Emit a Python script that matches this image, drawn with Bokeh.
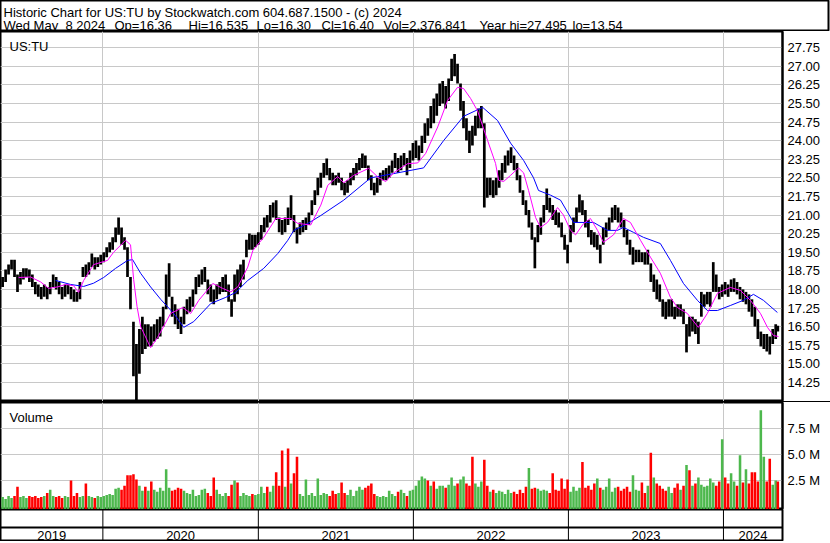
import numpy as np
import pandas as pd
from bokeh.plotting import figure
from bokeh.layouts import column
from bokeh.models import Range1d, FixedTicker, Grid, PrintfTickFormatter, Label, Span, ColumnDataSource, Div
from bokeh.embed import file_html
from bokeh.resources import INLINE
from bokeh.core.properties import value

FONT = "Liberation Sans"

# ---------------- data ----------------
header_line1 = "Historic Chart for US:TU by Stockwatch.com 604.687.1500 - (c) 2024"
header_fields = ["Wed May", "8 2024", "Op=16.36", "Hi=16.535", "Lo=16.30", "Cl=16.40",
                 "Vol=2,376,841", "Year hi=27.495", "lo=13.54"]
symbol = "US:TU"

# weekly bars: week ending dates (Fridays) from 2019-05-10, last one 2024-05-08
first_week = "2019-05-10"
last_day = "2024-05-08"

week_low = [
    18.1, 18.3, 18.6, 18.8, 18.5, 17.9, 18.2, 18.4, 18.5, 18.3,
    18.1, 17.8, 17.7, 17.6, 17.7, 17.6, 17.8, 18.1, 18.0, 17.8,
    17.6, 17.7, 17.8, 17.6, 17.5, 17.5, 17.6, 18.5, 18.5, 18.6,
    18.9, 18.8, 18.9, 19.0, 19.1, 19.3, 19.5, 19.6, 19.9, 20.2,
    19.8, 19.6, 18.5, 17.2, 14.5, 13.54, 14.6, 15.4, 15.6, 15.7,
    15.7, 15.9, 16.0, 16.1, 16.5, 17.2, 17.7, 16.9, 16.6, 16.4,
    16.2, 16.6, 17.0, 17.1, 17.3, 17.8, 18.1, 18.2, 18.3, 17.8,
    17.5, 17.4, 17.6, 17.8, 17.9, 17.9, 17.5, 16.9, 17.5, 17.8,
    18.1, 18.4, 19.3, 19.6, 19.6, 19.7, 19.8, 20.0, 20.3, 20.5,
    20.7, 20.9, 20.8, 20.3, 20.2, 20.3, 20.6, 20.8, 20.3, 19.85,
    20.2, 20.3, 20.4, 20.6, 21.0, 21.4, 21.8, 22.1, 22.5, 22.6,
    22.4, 22.2, 22.2, 22.3, 22.0, 21.8, 21.9, 22.2, 22.4, 22.6,
    22.8, 22.9, 22.9, 22.4, 22.0, 21.8, 21.9, 22.2, 22.4, 22.4,
    22.5, 22.7, 22.9, 22.7, 22.8, 23.0, 22.6, 22.9, 23.2, 23.3,
    23.2, 23.5, 23.9, 24.2, 24.5, 24.7, 25.0, 25.4, 25.5, 25.3,
    25.6, 26.4, 26.6, 26.3, 25.2, 24.5, 24.0, 23.5, 23.8, 24.2,
    24.5, 24.5, 21.3, 21.7, 21.8, 21.7, 21.8, 22.1, 22.4, 22.7,
    23.0, 23.1, 22.8, 22.4, 21.9, 21.4, 21.0, 20.5, 20.0, 18.85,
    19.9, 20.2, 20.7, 21.2, 21.1, 20.8, 20.6, 20.5, 20.1, 19.6,
    19.05, 19.9, 20.3, 20.7, 21.1, 21.0, 20.5, 20.1, 19.8, 19.7,
    19.6, 19.05, 19.8, 20.1, 20.4, 20.7, 20.8, 20.7, 20.5, 20.1,
    19.8, 19.4, 19.0, 19.1, 19.1, 19.1, 19.0, 19.0, 18.3, 17.9,
    17.6, 17.5, 16.9, 16.8, 16.9, 16.9, 16.8, 16.9, 16.9, 16.6,
    15.46, 16.1, 16.3, 16.2, 15.8, 16.9, 17.3, 17.4, 17.3, 17.9,
    17.9, 17.6, 17.7, 17.8, 17.7, 17.9, 17.9, 17.8, 17.6, 17.5,
    17.4, 17.1, 16.9, 16.5, 16.0, 15.7, 15.6, 15.5, 15.38, 15.8,
    16.0, 16.30,
]
week_high = [
    18.5, 18.8, 19.0, 19.2, 19.2, 18.6, 18.7, 18.85, 18.85, 18.8,
    18.6, 18.3, 18.2, 18.1, 18.2, 18.1, 18.3, 18.6, 18.5, 18.3,
    18.1, 18.2, 18.2, 18.1, 18.0, 17.9, 18.3, 18.9, 19.0, 19.1,
    19.45, 19.3, 19.3, 19.4, 19.5, 19.7, 19.9, 20.1, 20.5, 20.9,
    20.5, 20.1, 19.7, 18.5, 16.7, 15.8, 16.4, 16.9, 16.6, 16.6,
    16.5, 16.6, 16.8, 16.9, 17.3, 18.6, 19.05, 17.7, 17.4, 17.2,
    16.9, 17.3, 17.6, 17.7, 18.0, 18.5, 18.6, 18.8, 18.9, 18.4,
    18.2, 18.0, 18.2, 18.3, 18.5, 18.6, 18.2, 17.6, 18.6, 18.8,
    19.0, 19.2, 20.0, 20.25, 20.2, 20.2, 20.3, 20.6, 20.9, 21.0,
    21.4, 21.5, 21.6, 20.9, 20.8, 20.9, 21.3, 21.8, 21.0, 20.5,
    20.7, 20.8, 20.9, 21.1, 21.6, 22.0, 22.5, 22.7, 23.1, 23.28,
    22.9, 22.7, 22.6, 22.7, 22.5, 22.3, 22.4, 22.7, 22.9, 23.1,
    23.3, 23.48, 23.4, 23.0, 22.6, 22.3, 22.5, 22.7, 22.8, 22.9,
    23.0, 23.2, 23.5, 23.3, 23.4, 23.5, 23.3, 23.6, 23.9, 24.0,
    23.8, 24.2, 24.7, 24.9, 25.4, 25.7, 25.9, 26.3, 26.4, 26.2,
    26.5, 27.3, 27.495, 27.1, 26.3, 25.6, 24.9, 24.4, 24.6, 25.0,
    25.3, 25.4, 24.7, 22.5, 22.5, 22.4, 22.5, 22.8, 23.1, 23.4,
    23.6, 23.73, 23.4, 23.1, 22.6, 22.0, 21.6, 21.2, 20.7, 20.1,
    20.6, 20.9, 21.4, 22.07, 21.7, 21.4, 21.2, 21.1, 20.7, 20.2,
    19.8, 20.6, 20.9, 21.3, 21.83, 21.6, 21.2, 20.8, 20.4, 20.3,
    20.2, 19.8, 20.5, 20.7, 20.9, 21.3, 21.4, 21.3, 21.1, 20.8,
    20.4, 20.0, 19.7, 19.6, 19.6, 19.5, 19.5, 19.6, 19.05, 18.6,
    18.4, 18.2, 17.6, 17.5, 17.6, 17.6, 17.3, 17.4, 17.4, 17.2,
    16.6, 16.9, 16.9, 16.8, 16.7, 17.9, 17.8, 17.9, 17.9, 19.1,
    18.6, 18.1, 18.2, 18.3, 18.2, 18.4, 18.45, 18.3, 18.1, 18.0,
    17.9, 17.8, 17.6, 17.3, 16.8, 16.3, 16.2, 16.2, 16.1, 16.4,
    16.6, 16.535,
]
# volume, millions of shares
week_volume = [
    0.9, 0.7, 1.0, 0.8, 1.0, 1.9, 0.9, 1.0, 0.8, 1.0,
    0.9, 1.0, 0.8, 0.9, 1.0, 1.3, 1.6, 1.0, 0.9, 1.0,
    0.8, 1.0, 0.9, 2.5, 1.0, 1.3, 0.9, 1.0, 2.2, 1.0,
    0.9, 0.8, 1.0, 0.9, 1.0, 1.1, 1.2, 1.1, 1.7, 1.8,
    1.6, 2.0, 3.0, 3.0, 3.1, 2.6, 2.0, 1.5, 1.9, 1.5,
    2.4, 1.6, 1.4, 1.8, 1.5, 3.6, 1.8, 1.5, 1.6, 1.8,
    1.7, 1.5, 1.3, 1.2, 1.6, 1.0, 1.1, 1.6, 1.7, 1.3,
    1.0, 2.8, 1.6, 1.2, 1.0, 1.3, 1.0, 2.1, 2.5, 2.3,
    1.0, 1.3, 1.1, 1.0, 1.2, 1.1, 1.2, 1.9, 1.3, 1.9,
    1.4, 2.0, 3.3, 2.0, 5.4, 1.9, 5.6, 2.2, 3.2, 4.8,
    1.2, 1.0, 2.6, 1.1, 1.3, 1.0, 2.7, 1.1, 1.3, 1.2,
    1.0, 1.5, 1.2, 1.3, 2.3, 1.3, 1.1, 1.6, 1.0, 1.5,
    1.9, 1.6, 1.8, 2.0, 2.2, 1.2, 1.0, 0.9, 1.0, 0.9,
    1.5, 1.2, 1.0, 1.4, 1.6, 1.3, 1.0, 1.5, 1.6, 2.0,
    2.5, 2.9, 2.7, 2.5, 2.0, 2.4, 1.7, 2.0, 2.0, 1.8,
    2.1, 2.8, 2.0, 2.2, 2.6, 2.9, 2.2, 2.0, 4.8, 2.2,
    1.9, 2.4, 4.5, 2.0, 1.4, 1.6, 1.3, 1.5, 1.4, 1.2,
    1.6, 1.3, 1.4, 1.2, 1.6, 1.3, 1.9, 3.7, 1.7, 1.8,
    1.7, 1.5, 1.6, 1.5, 1.3, 3.2, 1.6, 1.5, 2.7, 1.7,
    2.6, 1.4, 1.9, 1.5, 1.8, 4.3, 1.8, 2.0, 1.6, 2.2,
    2.7, 1.8, 1.6, 1.9, 2.7, 1.4, 1.8, 1.9, 1.5, 1.7,
    1.9, 1.4, 3.0, 1.6, 1.5, 2.3, 1.3, 2.0, 5.2, 2.8,
    2.2, 2.0, 1.7, 1.5, 1.9, 1.3, 1.8, 2.2, 1.6, 2.0,
    4.0, 3.5, 2.0, 2.2, 2.8, 2.1, 1.9, 2.0, 2.7, 2.3,
    2.0, 2.4, 6.5, 2.8, 2.2, 3.2, 2.4, 2.0, 4.95, 2.3,
    3.6, 2.2, 3.3, 3.3, 2.4, 9.3, 4.8, 2.4, 4.6, 2.1,
    2.5, 2.4,
]
# colour of the taller volume bars as seen in the picture (g = up, r = down)
volume_colour_seen = {
    5: "r", 23: "r", 28: "r", 42: "r", 43: "r", 44: "r", 55: "g", 71: "r", 77: "r", 78: "g",
    79: "r", 87: "g", 89: "r", 92: "r", 94: "r", 96: "r", 98: "r", 99: "r", 102: "g", 106: "g",
    114: "r", 123: "r", 124: "r", 140: "g", 141: "g", 143: "r", 145: "r", 151: "g", 154: "g",
    155: "g", 158: "r", 162: "r", 177: "g", 185: "r", 188: "r", 190: "r", 195: "r", 200: "g",
    204: "g", 212: "g", 218: "r", 219: "g", 220: "r", 227: "r", 230: "g", 231: "r", 234: "g",
    238: "g", 242: "g", 243: "r", 245: "g", 248: "g", 250: "g", 252: "r", 253: "r", 255: "g",
    256: "g", 258: "r", 261: "r",
}

# moving averages (decimal year, value)
ma50_t = [
    2019.457, 2019.534, 2019.599, 2019.650, 2019.708, 2019.760, 2019.811, 2019.843, 2019.876, 2019.940,
    2020.030, 2020.069, 2020.146, 2020.178, 2020.198, 2020.220, 2020.243, 2020.307, 2020.352, 2020.436,
    2020.514, 2020.565, 2020.617, 2020.707, 2020.771, 2020.823, 2020.868, 2020.932, 2020.965, 2021.035,
    2021.113, 2021.209, 2021.255, 2021.338, 2021.403, 2021.448, 2021.512, 2021.551, 2021.615, 2021.712,
    2021.776, 2021.822, 2021.873, 2021.963, 2022.028, 2022.079, 2022.157, 2022.221, 2022.285, 2022.324,
    2022.369, 2022.414, 2022.479, 2022.530, 2022.550, 2022.582, 2022.627, 2022.678, 2022.711, 2022.743,
    2022.788, 2022.820, 2022.865, 2022.930, 2022.968, 2023.014, 2023.046, 2023.097, 2023.142, 2023.188,
    2023.226, 2023.291, 2023.355, 2023.400, 2023.465, 2023.529, 2023.593, 2023.658, 2023.703, 2023.767,
    2023.838, 2023.896, 2023.961, 2024.044, 2024.109, 2024.173, 2024.238, 2024.283, 2024.322, 2024.354,
]
ma50_v = [
    18.48, 18.50, 18.30, 18.04, 18.10, 18.20, 18.15, 17.88, 18.36, 19.00,
    19.17, 19.50, 19.98, 19.80, 18.40, 17.30, 16.50, 15.65, 16.06, 17.03,
    17.27, 17.03, 17.56, 18.24, 18.04, 17.90, 18.10, 18.90, 19.57, 20.10,
    20.86, 20.86, 20.66, 20.60, 21.40, 22.20, 22.55, 22.30, 22.60, 22.88,
    22.50, 22.35, 22.70, 23.07, 23.10, 23.48, 24.55, 25.62, 26.15, 26.10,
    25.70, 25.20, 24.00, 23.08, 22.40, 22.35, 22.60, 22.90, 22.70, 21.99,
    20.90, 20.50, 20.70, 21.30, 21.00, 20.38, 20.20, 20.65, 20.86, 20.38,
    19.90, 20.20, 20.86, 20.70, 19.98, 19.30, 18.65, 17.68, 17.27, 17.03,
    16.47, 17.03, 17.84, 18.08, 17.96, 17.56, 17.03, 16.47, 16.14, 16.10,
]
ma200_t = [
    2019.695, 2019.792, 2019.876, 2019.940, 2020.005, 2020.082, 2020.159, 2020.191, 2020.243, 2020.307,
    2020.372, 2020.456, 2020.520, 2020.584, 2020.694, 2020.791, 2020.855, 2020.932, 2021.035, 2021.126,
    2021.190, 2021.229, 2021.319, 2021.403, 2021.551, 2021.725, 2021.873, 2022.066, 2022.195, 2022.324,
    2022.447, 2022.543, 2022.627, 2022.711, 2022.775, 2022.807, 2022.885, 2022.949, 2023.033, 2023.162,
    2023.252, 2023.316, 2023.355, 2023.420, 2023.484, 2023.593, 2023.658, 2023.742, 2023.832, 2023.896,
    2023.961, 2024.044, 2024.128, 2024.193, 2024.257, 2024.347,
]
ma200_v = [
    18.36, 18.20, 18.12, 18.25, 18.48, 18.85, 19.17, 19.20, 18.65, 18.10,
    17.60, 17.03, 16.47, 16.70, 17.43, 17.68, 17.88, 18.36, 18.85, 19.45,
    19.98, 20.38, 20.66, 20.98, 21.60, 22.50, 22.67, 22.90, 24.00, 24.98,
    25.34, 24.81, 23.90, 23.20, 22.50, 21.99, 21.80, 21.60, 20.70, 20.70,
    20.38, 20.38, 20.50, 20.30, 20.10, 19.85, 19.17, 18.24, 17.56, 17.15,
    17.15, 17.35, 17.56, 17.80, 17.56, 17.07,
]

price_ticks = [14.25, 15.00, 15.75, 16.50, 17.25, 18.00, 18.75, 19.50, 20.25, 21.00,
               21.75, 22.50, 23.25, 24.00, 24.75, 25.50, 26.25, 27.00, 27.75]
volume_ticks = [2.5, 5.0, 7.5]
year_labels = ["2019", "2020", "2021", "2022", "2023", "2024"]
view_start = "2019-05-05"
view_end = "2024-05-19"

# ---------------- derived ----------------
dates = pd.DatetimeIndex(list(pd.date_range(first_week, periods=len(week_low) - 1, freq="7D"))
                         + [pd.Timestamp(last_day)])
low = np.array(week_low); high = np.array(week_high)
mid = (low + high) / 2
up = np.r_[True, mid[1:] >= mid[:-1]]
GREEN, RED = "#4DB84D", "#FF0000"
vcol = [GREEN if u else RED for u in up]
for k, c in volume_colour_seen.items():
    vcol[k] = GREEN if c == "g" else RED


def dec_year(t):
    y = int(np.floor(t))
    a = pd.Timestamp(year=y, month=1, day=1)
    b = pd.Timestamp(year=y + 1, month=1, day=1)
    return a + (b - a) * (t - y)


ma50_x = [dec_year(t) for t in ma50_t]
ma200_x = [dec_year(t) for t in ma200_t]

x0 = pd.Timestamp(view_start); x1 = pd.Timestamp(view_end)
year_starts = [pd.Timestamp(f"{y}-01-01") for y in range(int(year_labels[1]), int(year_labels[-1]) + 1)]
year_ms = [ts.value / 1e6 for ts in year_starts]

src = ColumnDataSource(dict(date=dates, low=low, high=high, vol=week_volume, col=vcol))

# ---------------- layout ----------------
TOTAL_W = 830
FW = 782
AXW = TOTAL_W - FW
H_HDR, H_PRICE, H_SEP, H_VOL, H_BAND = 31, 370, 1, 107, 32
GRID = "#C8C8C8"


def panel(h, y_range, right_axis=True):
    f = figure(frame_width=FW, frame_height=h, x_range=Range1d(x0, x1), y_range=y_range,
               x_axis_location=None, y_axis_location="right" if right_axis else None,
               toolbar_location=None, output_backend="svg",
               min_border_left=0, min_border_right=AXW, min_border_top=0, min_border_bottom=0)
    f.grid.visible = False
    f.outline_line_color = "black"
    f.outline_line_width = 2
    f.outline_line_alpha = 1
    return f


def style_axis(f, ticks, fmt):
    ax = f.yaxis[0]
    ax.ticker = FixedTicker(ticks=ticks)
    ax.formatter = PrintfTickFormatter(format=fmt)
    ax.axis_line_width = 2
    ax.axis_line_color = "black"
    ax.major_tick_line_color = None
    ax.minor_tick_line_color = None
    ax.major_tick_out = 0
    ax.major_tick_in = 0
    ax.minor_tick_out = 0
    ax.minor_tick_in = 0
    ax.major_label_standoff = 5
    ax.major_label_text_font = FONT
    ax.major_label_text_font_size = "13px"
    ax.major_label_text_color = "black"


def screen_label(f, x, y, text, baseline="alphabetic"):
    f.add_layout(Label(x=x, y=y, x_units="screen", y_units="screen", text=text,
                       text_font=FONT, text_font_size="13px", text_color="black",
                       text_baseline=baseline))


# header
hdr = figure(frame_width=TOTAL_W - 2, frame_height=H_HDR, x_range=Range1d(0, 1), y_range=Range1d(0, 1),
             x_axis_location=None, y_axis_location=None, toolbar_location=None, output_backend="svg",
             min_border_left=0, min_border_right=2, min_border_top=0, min_border_bottom=0)
hdr.grid.visible = False
hdr.outline_line_color = "black"
hdr.outline_line_width = 2
screen_label(hdr, 3, 19, header_line1)
field_x = [3, 65, 114, 188, 256, 321, 383, 479, 572]
for fx, ft in zip(field_x, header_fields):
    screen_label(hdr, fx, 6.5, ft)

# price panel
p = panel(H_PRICE, Range1d(13.48, 28.40))
p.add_layout(Grid(dimension=0, ticker=FixedTicker(ticks=year_ms), grid_line_color=GRID))
p.add_layout(Grid(dimension=1, ticker=FixedTicker(ticks=price_ticks), grid_line_color=GRID))
style_axis(p, price_ticks, "%.2f")
p.segment(x0="date", y0="low", x1="date", y1="high", source=src, line_color="black", line_width=2.7)
p.line(ma200_x, ma200_v, line_color="#0000FF", line_width=1)
p.line(ma50_x, ma50_v, line_color="#FF00FF", line_width=1)
screen_label(p, 9, H_PRICE - 15, symbol)

# separator running across the full width (as in the reference)
sep = Div(text="", width=TOTAL_W, height=H_SEP, margin=0, styles={"background-color": "black"})

# volume panel
v = panel(H_VOL, Range1d(-0.31, 10.06))
v.add_layout(Grid(dimension=0, ticker=FixedTicker(ticks=year_ms), grid_line_color=GRID))
v.add_layout(Grid(dimension=1, ticker=FixedTicker(ticks=volume_ticks), grid_line_color=GRID))
style_axis(v, volume_ticks, "%.1f M")
v.vbar(x="date", top="vol", bottom=-0.31, width=6 * 86400000, source=src,
       fill_color="col", line_color=None)
screen_label(v, 9, H_VOL - 15, "Volume")

# time band with year labels
b = panel(H_BAND, Range1d(0, 32), right_axis=False)
b.add_layout(Span(location=14, dimension="width", line_color="black", line_width=2))
for ts in year_starts:
    b.add_layout(Span(location=ts.value / 1e6, dimension="height", line_color="black", line_width=1))
bounds = [x0] + year_starts + [x1]
centers = [a + (c - a) / 2 for a, c in zip(bounds[:-1], bounds[1:])]
b.text(x=centers, y=[6.5] * len(centers), text=year_labels, text_align="center",
       text_baseline="middle", text_font=value(FONT), text_font_size=value("13px"), text_color="black")

layout = column(hdr, p, sep, v, b, spacing=0)
open("out.html", "w").write(file_html(layout, INLINE))
